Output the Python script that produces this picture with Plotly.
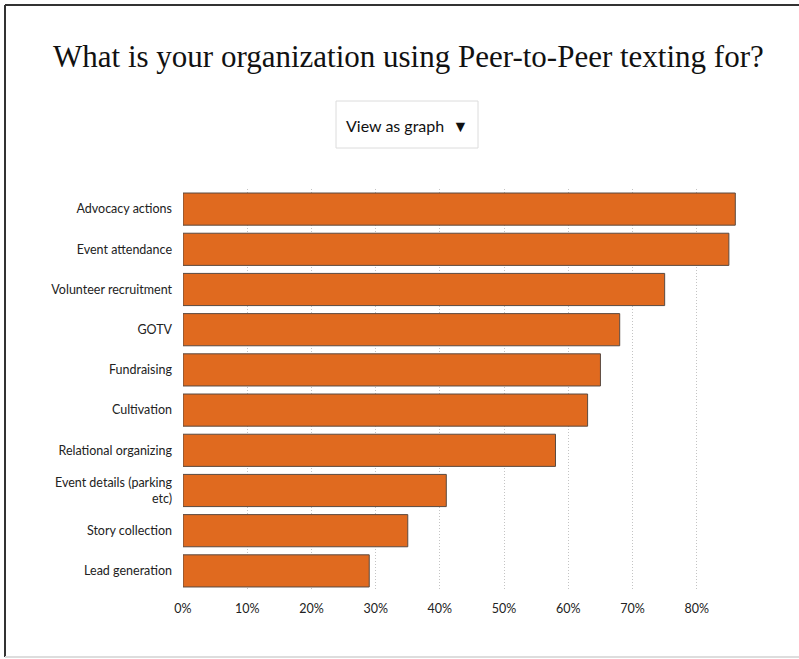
import plotly.graph_objects as go

categories = ["Advocacy actions", "Event attendance", "Volunteer recruitment", "GOTV",
              "Fundraising", "Cultivation", "Relational organizing",
              "Event details (parking<br>etc)", "Story collection", "Lead generation"]
values = [86, 85, 75, 68, 65, 63, 58, 41, 35, 29]
tick_vals = [0, 10, 20, 30, 40, 50, 60, 70, 80]
tick_text = ["0%", "10%", "20%", "30%", "40%", "50%", "60%", "70%", "80%"]

W, H = 799, 659
L, R, T, B = 183, 38, 189, 68
PW, PH = W - L - R, H - T - B

def px(x):
    return (x - L) / PW

def py(y):
    return (H - B - y) / PH

fig = go.Figure(go.Bar(
    x=values, y=categories, orientation="h",
    marker=dict(color="#E06A1F", line=dict(color="#5a4a40", width=1)),
    hoverinfo="x+y",
))

fig.update_layout(
    width=W, height=H,
    margin=dict(l=L, r=R, t=T, b=B),
    paper_bgcolor="white", plot_bgcolor="white",
    bargap=0.2,
    showlegend=False,
    font=dict(family="Lato, Open Sans, sans-serif", size=12.5, color="#222"),
    xaxis=dict(range=[0, 90], tickvals=tick_vals, ticktext=tick_text,
               showgrid=True, gridcolor="#c4c4c4", griddash="1px,2px", gridwidth=1,
               zeroline=False, showline=False, ticks="", ticklabelstandoff=8,
               fixedrange=True),
    yaxis=dict(autorange="reversed", showgrid=False, zeroline=False, showline=False,
               ticks="", ticklabelstandoff=10, fixedrange=True),
    shapes=[
        # frame
        dict(type="line", xref="paper", yref="paper", x0=px(5), x1=px(5), y0=py(5), y1=py(657),
             line=dict(color="#333", width=2)),
        dict(type="line", xref="paper", yref="paper", x0=px(5), x1=px(805), y0=py(5), y1=py(5),
             line=dict(color="#333", width=2)),
        dict(type="line", xref="paper", yref="paper", x0=px(5), x1=px(805), y0=py(657), y1=py(657),
             line=dict(color="#ddd", width=2)),
        # button
        dict(type="rect", xref="paper", yref="paper", x0=px(336), x1=px(478), y0=py(148), y1=py(101),
             line=dict(color="#dcdcdc", width=1), fillcolor="white"),
    ],
    annotations=[
        dict(text="What is your organization using Peer-to-Peer texting for?",
             xref="paper", yref="paper", x=px(408), y=py(57), showarrow=False,
             xanchor="center", yanchor="middle",
             font=dict(family="Liberation Serif, serif", size=31, color="#111")),
        dict(text="View as graph  ▼", xref="paper", yref="paper", x=px(407), y=py(125),
             showarrow=False, xanchor="center", yanchor="middle",
             font=dict(family="Lato, sans-serif", size=16, color="#111")),
    ],
)

fig.write_html("out.html", config={"displayModeBar": False},
               post_script="document.body.style.margin='0';document.body.style.padding='0';")
